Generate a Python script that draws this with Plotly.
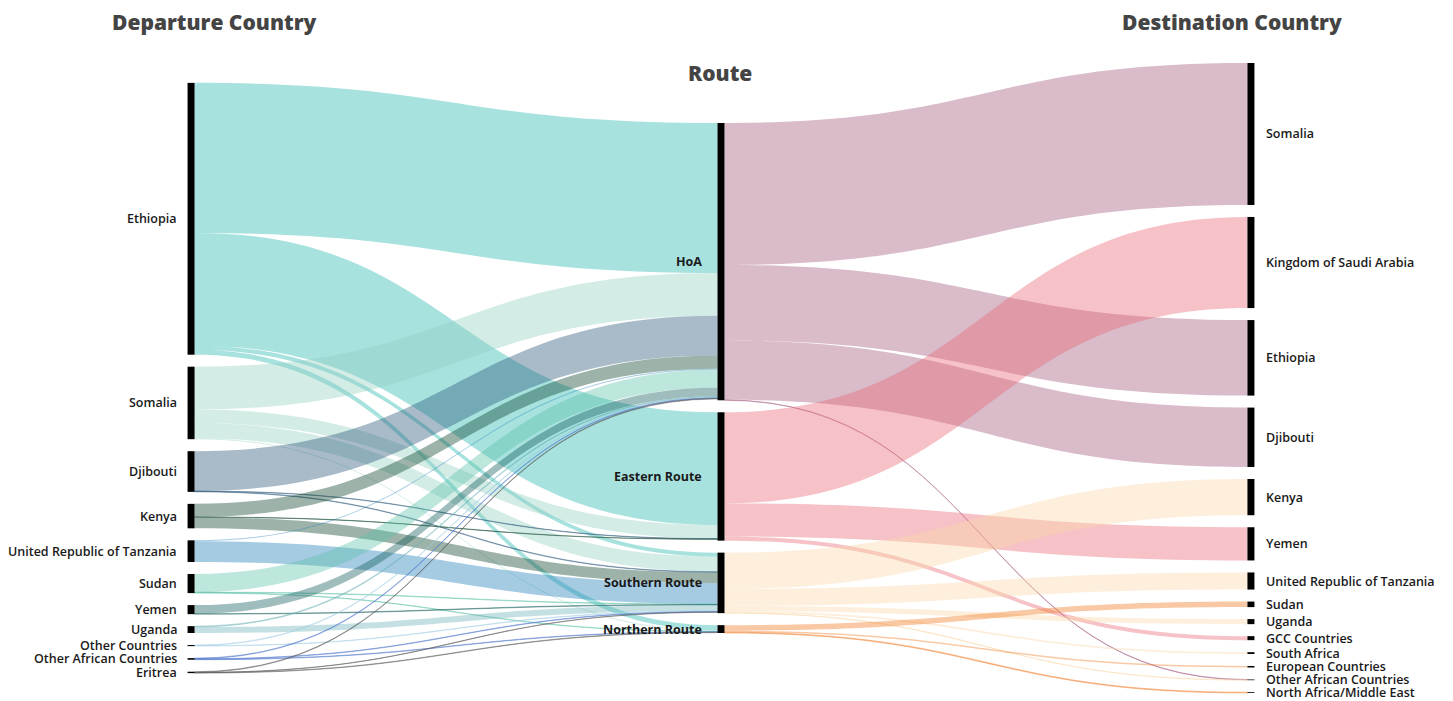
import plotly.graph_objects as go

# ---------------- data ----------------
departure = ["Ethiopia", "Somalia", "Djibouti", "Kenya", "United Republic of Tanzania",
             "Sudan", "Yemen", "Uganda", "Other Countries", "Other African Countries", "Eritrea"]
routes = ["HoA", "Eastern Route", "Southern Route", "Northern Route"]
destination = ["Somalia", "Kingdom of Saudi Arabia", "Ethiopia", "Djibouti", "Kenya", "Yemen",
               "United Republic of Tanzania", "Sudan", "Uganda", "GCC Countries", "South Africa",
               "European Countries", "Other African Countries", "North Africa/Middle East"]

# departure country -> route
dep_from = ["Ethiopia", "Ethiopia", "Ethiopia", "Ethiopia",
            "Somalia", "Somalia", "Somalia", "Somalia",
            "Djibouti", "Djibouti", "Djibouti",
            "Kenya", "Kenya", "Kenya",
            "United Republic of Tanzania", "United Republic of Tanzania",
            "Sudan", "Sudan", "Sudan",
            "Yemen", "Yemen",
            "Uganda", "Uganda",
            "Other Countries", "Other Countries",
            "Other African Countries", "Other African Countries", "Other African Countries",
            "Eritrea", "Eritrea", "Eritrea"]
dep_to = ["HoA", "Eastern Route", "Southern Route", "Northern Route",
          "HoA", "Eastern Route", "Southern Route", "Northern Route",
          "HoA", "Eastern Route", "Southern Route",
          "HoA", "Eastern Route", "Southern Route",
          "HoA", "Southern Route",
          "HoA", "Southern Route", "Northern Route",
          "HoA", "Southern Route",
          "HoA", "Southern Route",
          "HoA", "Southern Route",
          "HoA", "Southern Route", "Northern Route",
          "HoA", "Southern Route", "Northern Route"]
dep_value = [149, 112, 4, 5,
             42.5, 13.5, 15, 1,
             39.5, 0.4, 0.5,
             13, 0.3, 11,
             1, 20.5,
             18, 0.5, 0.5,
             8.5, 0.5,
             0.8, 6,
             0.6, 0.5,
             0.6, 0.5, 0.5,
             0.6, 0.3, 0.5]

# route -> destination country
route_from = ["HoA", "HoA", "HoA", "HoA",
              "Eastern Route", "Eastern Route", "Eastern Route",
              "Southern Route", "Southern Route", "Southern Route", "Southern Route", "Southern Route",
              "Northern Route", "Northern Route", "Northern Route"]
route_to = ["Somalia", "Ethiopia", "Djibouti", "Other African Countries",
            "Kingdom of Saudi Arabia", "Yemen", "GCC Countries",
            "Kenya", "United Republic of Tanzania", "Uganda", "South Africa", "Other African Countries",
            "Sudan", "European Countries", "North Africa/Middle East"]
route_value = [141, 75, 59, 0.4,
               90.5, 33, 4,
               36, 17, 5, 1.8, 0.3,
               5.5, 1.5, 0.8]

column_titles = ["Departure Country", "Route", "Destination Country"]

# ---------------- styling ----------------
dep_colors = {
    "Ethiopia": "rgba(35,182,175,0.4)",
    "Somalia": "rgba(145,207,192,0.4)",
    "Djibouti": "rgba(40,85,120,0.4)",
    "Kenya": "rgba(10,65,43,0.4)",
    "United Republic of Tanzania": "rgba(30,125,185,0.4)",
    "Sudan": "rgba(90,192,168,0.4)",
    "Yemen": "rgba(15,90,88,0.4)",
    "Uganda": "rgba(107,177,182,0.4)",
    "Other Countries": "rgba(160,205,228,0.4)",
    "Other African Countries": "rgba(80,120,205,0.45)",
    "Eritrea": "rgba(90,90,90,0.45)",
}
route_colors = {
    "HoA": "rgba(160,85,122,0.4)",
    "Eastern Route": "rgba(232,102,115,0.4)",
    "Southern Route": "rgba(250,215,168,0.4)",
    "Northern Route": "rgba(240,120,33,0.4)",
}

FIG_W, FIG_H = 1453, 701
M = dict(l=190, r=201, t=63, b=8)
PAD = 12
THICK = 7
PLOT_W = FIG_W - M["l"] - M["r"]
PLOT_H = FIG_H - M["t"] - M["b"]
FONT = "Open Sans"

# ---------------- build sankey ----------------
columns = [departure, routes, destination]
offsets = [0, len(departure), len(departure) + len(routes)]
n_nodes = offsets[2] + len(destination)

src = [offsets[0] + departure.index(s) for s in dep_from] + \
      [offsets[1] + routes.index(s) for s in route_from]
tgt = [offsets[1] + routes.index(t) for t in dep_to] + \
      [offsets[2] + destination.index(t) for t in route_to]
val = dep_value + route_value
lcol = [dep_colors[s] for s in dep_from] + [route_colors[s] for s in route_from]

inflow = [0.0] * n_nodes
outflow = [0.0] * n_nodes
for s, t, v in zip(src, tgt, val):
    outflow[s] += v
    inflow[t] += v
node_val = [max(a, b) for a, b in zip(inflow, outflow)]

col_vals = [node_val[offsets[c]:offsets[c] + len(columns[c])] for c in range(3)]
ky = min((PLOT_H - (len(cv) - 1) * PAD) / sum(cv) for cv in col_vals)

xs_col = [0.001, 0.5, 0.999]
node_x, node_y = [], []
for c, cv in enumerate(col_vals):
    total = sum(v * ky for v in cv) + PAD * (len(cv) - 1)
    y = (PLOT_H - total) / 2
    for v in cv:
        h = v * ky
        node_x.append(xs_col[c])
        node_y.append((y + h / 2) / PLOT_H)
        y += h + PAD

names = departure + routes + destination

fig = go.Figure(go.Sankey(
    arrangement="fixed",
    domain=dict(x=[0, 1], y=[0, 1]),
    node=dict(
        label=[""] * n_nodes,
        customdata=names,
        hovertemplate="%{customdata}<extra></extra>",
        x=node_x, y=node_y,
        pad=PAD, thickness=THICK,
        color="black",
        line=dict(width=0),
    ),
    link=dict(source=src, target=tgt, value=val, color=lcol),
))

annotations = []
for i, name in enumerate(names):
    c = 0 if i < offsets[1] else (1 if i < offsets[2] else 2)
    if c == 0:
        xanchor, xshift, weight = "right", -(THICK / 2 + 10), 600
    elif c == 1:
        xanchor, xshift, weight = "right", -(THICK / 2 + 15), 700
    else:
        xanchor, xshift, weight = "left", THICK / 2 + 11, 600
    annotations.append(dict(
        x=node_x[i], y=1 - node_y[i], xref="paper", yref="paper",
        text=name, showarrow=False, xanchor=xanchor, yanchor="middle", xshift=xshift,
        borderpad=0,
        font=dict(family=FONT, size=12.5, color="#1a1a1a", weight=weight),
    ))

title_px = [(214, 22), (720, 73), (1232, 22)]
for txt, (px, py) in zip(column_titles, title_px):
    annotations.append(dict(
        x=(px - M["l"]) / PLOT_W, y=(FIG_H - M["b"] - py) / PLOT_H,
        xref="paper", yref="paper", text=txt, showarrow=False,
        xanchor="center", yanchor="middle",
        font=dict(family=FONT, size=21, color="#444444", weight=800),
    ))

fig.update_layout(
    width=FIG_W, height=FIG_H, margin=M,
    paper_bgcolor="white", plot_bgcolor="white",
    font=dict(family=FONT),
    annotations=annotations,
)

fig.write_html("out.html", config={"displayModeBar": False},
               post_script="document.body.style.margin='0';")
